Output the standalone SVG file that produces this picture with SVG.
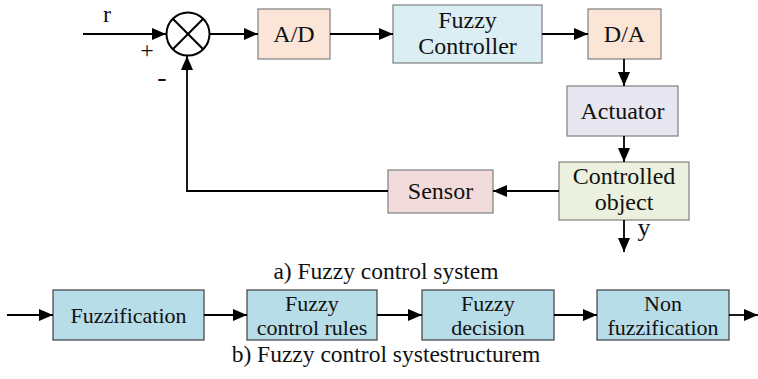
<svg xmlns="http://www.w3.org/2000/svg" width="758" height="379" viewBox="0 0 758 379" font-family="'Liberation Serif', 'Times New Roman', 'DejaVu Serif', serif">
<style>
text{font-family:'Liberation Serif','Times New Roman','DejaVu Serif',serif;fill:#111;}
.t{font-size:24px;text-anchor:middle;}
.b{font-size:22px;text-anchor:middle;}
.cap{font-size:23.5px;text-anchor:middle;}
.box{stroke:#7f7f7f;stroke-width:1.2;}
.bbox{fill:#b7dde8;stroke:#404040;stroke-width:1.2;}
.ln{stroke:#000;stroke-width:1.8;fill:none;}
</style>
<defs>
<marker id="ah" markerWidth="14" markerHeight="12" refX="14" refY="6" orient="auto" markerUnits="userSpaceOnUse">
<path d="M0,0 L14,6 L0,12 Z" fill="#000"/>
</marker>
</defs>
<rect width="758" height="379" fill="#fff"/>

<g id="sum">
<circle cx="188" cy="34" r="21.5" fill="#fff" stroke="#000" stroke-width="2"/>
<line x1="172.8" y1="18.8" x2="203.2" y2="49.2" stroke="#000" stroke-width="2"/>
<line x1="203.2" y1="18.8" x2="172.8" y2="49.2" stroke="#000" stroke-width="2"/>
</g>
<g id="labels-top">
<text x="107" y="22" font-size="24" text-anchor="middle">r</text>
<text x="147" y="58" font-size="24" text-anchor="middle">+</text>
<text x="162" y="86" font-size="28" text-anchor="middle">-</text>
<text x="644" y="236" font-size="26" text-anchor="middle">y</text>
</g>
<g id="ad"><rect class="box" x="258" y="9" width="72" height="50" fill="#fbe5d6"/><text class="t" x="294" y="42">A/D</text></g>
<g id="fc"><rect class="box" x="393" y="5" width="149" height="58" fill="#daeef3"/><text class="t" x="467.5" y="28">Fuzzy</text><text class="t" x="467.5" y="54">Controller</text></g>
<g id="da"><rect class="box" x="588" y="9" width="73" height="50" fill="#fbe5d6"/><text class="t" x="624.5" y="42">D/A</text></g>
<g id="act"><rect class="box" x="567" y="86" width="111" height="50" fill="#e8e6f0"/><text class="t" x="622.5" y="119">Actuator</text></g>
<g id="obj"><rect class="box" x="559" y="162" width="130" height="58" fill="#ebf1de"/><text class="t" x="624" y="184">Controlled</text><text class="t" x="624" y="210">object</text></g>
<g id="sensor"><rect class="box" x="388" y="170" width="105" height="43" fill="#f2dcdb"/><text class="t" x="440.5" y="199">Sensor</text></g>

<g id="fz"><rect class="bbox" x="53" y="290" width="151" height="50"/><text class="b" x="128.5" y="323">Fuzzification</text></g>
<g id="rules"><rect class="bbox" x="247" y="290" width="130" height="50"/><text class="b" x="312" y="311">Fuzzy</text><text class="b" x="312" y="335">control rules</text></g>
<g id="dec"><rect class="bbox" x="422" y="290" width="132" height="50"/><text class="b" x="488" y="311">Fuzzy</text><text class="b" x="488" y="335">decision</text></g>
<g id="nonfz"><rect class="bbox" x="597" y="290" width="132" height="50"/><text class="b" x="663" y="311">Non</text><text class="b" x="663" y="335">fuzzification</text></g>

<g id="captions">
<text class="cap" x="386" y="279">a) Fuzzy control system</text>
<text class="cap" x="386" y="362">b) Fuzzy control systestructurem</text>
</g>

<g id="connectors">
<line class="ln" x1="83" y1="34" x2="166" y2="34" marker-end="url(#ah)"/>
<line class="ln" x1="210" y1="34" x2="258" y2="34" marker-end="url(#ah)"/>
<line class="ln" x1="330" y1="34" x2="393" y2="34" marker-end="url(#ah)"/>
<line class="ln" x1="542" y1="34" x2="588" y2="34" marker-end="url(#ah)"/>
<line class="ln" x1="624" y1="59" x2="624" y2="86" marker-end="url(#ah)"/>
<line class="ln" x1="624" y1="136" x2="624" y2="162" marker-end="url(#ah)"/>
<line class="ln" x1="624" y1="220" x2="624" y2="252" marker-end="url(#ah)"/>
<line class="ln" x1="559" y1="191" x2="493" y2="191" marker-end="url(#ah)"/>
<polyline class="ln" points="388,191 187,191 187,56" marker-end="url(#ah)"/>
<line class="ln" x1="7" y1="315" x2="53" y2="315" marker-end="url(#ah)"/>
<line class="ln" x1="204" y1="315" x2="247" y2="315" marker-end="url(#ah)"/>
<line class="ln" x1="377" y1="315" x2="422" y2="315" marker-end="url(#ah)"/>
<line class="ln" x1="554" y1="315" x2="597" y2="315" marker-end="url(#ah)"/>
<line class="ln" x1="729" y1="315" x2="758" y2="315" marker-end="url(#ah)"/>
</g>
</svg>
